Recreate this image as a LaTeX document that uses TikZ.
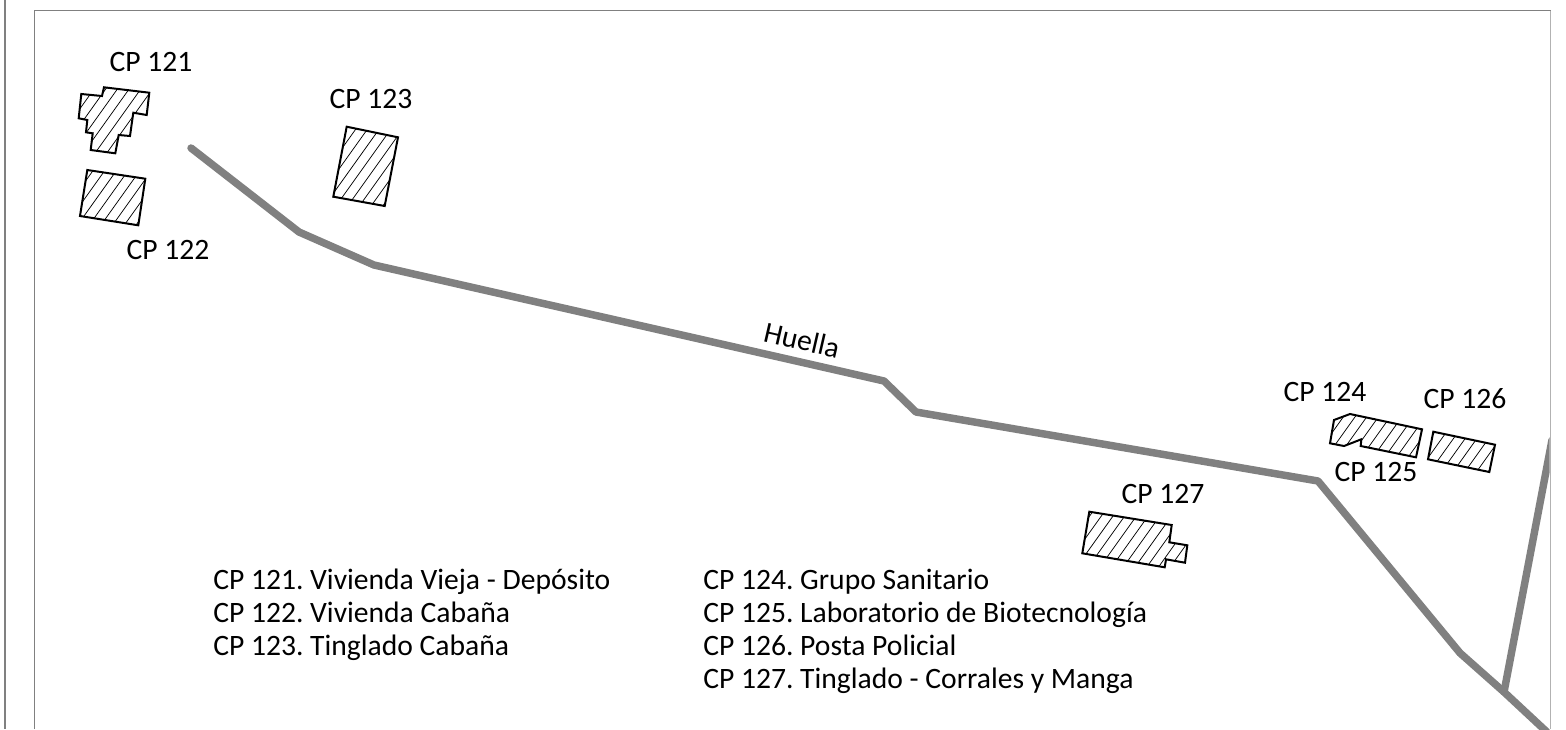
\documentclass[tikz,border=0pt]{standalone}
\usepackage{fontspec}
\setmainfont{Carlito}
\newcommand{\hatched}[2][0]{%
  \begin{scope}
    \clip #2 -- cycle;
    \foreach \k in {0,...,160}{
      \draw[hatchline] ({#1+\k*11.7},0) -- ++(-1400,{1400*1.4});
    }
  \end{scope}
  \draw[bldg] #2 -- cycle;
}
\tikzset{
  x=0.75pt,y=-0.75pt,
  hatchline/.style={black,line width=0.55pt},
  bldg/.style={black,line width=1.5pt,line join=miter},
  road/.style={draw=black!50,line width=5.6pt,line join=round,line cap=round},
  frameline/.style={draw=black!50,line width=0.9pt},
  label/.style={font=\fontsize{22.2}{24.6}\selectfont\frenchspacing,text=black,inner sep=0pt},
  legend/.style={label,align=left,anchor=north west},
}
\begin{document}
\begin{tikzpicture}
\useasboundingbox (0,0) rectangle (1566,729);
\coordinate (fa) at (5,0); \coordinate (fb) at (5,729);
\draw[draw=black!50,line width=1.6pt] (fa) -- (fb);
\coordinate (ra) at (34.5,729); \coordinate (rb) at (34.5,10.5);
\coordinate (rc) at (1550.5,10.5); \coordinate (rd) at (1550.5,729);
\draw[frameline] (ra) -- (rb) -- (rc);
\draw[draw=black!30,line width=1pt] (rc) -- (rd);
\begin{scope}
\clip (0,0) rectangle (1549.5,729);
\coordinate (r0) at (191,148);
\coordinate (r1) at (299,232);
\coordinate (r2) at (374,265);
\coordinate (r3) at (884,381);
\coordinate (r4) at (916,412);
\coordinate (r5) at (1318,481);
\coordinate (r6) at (1460,653);
\coordinate (r7) at (1504,692);
\coordinate (r8) at (1548,733);
\coordinate (r9) at (1552,440);
\draw[road] (r0) -- (r1) -- (r2) -- (r3) -- (r4) -- (r5) -- (r6) -- (r7) -- (r8);
\draw[road] (r7) -- (r9);
\end{scope}
\hatched[5.5]{(104,87.3) -- (149.3,92.7) -- (146.7,115) -- (133.3,112.7) -- (130,136) -- (118.7,135) -- (115.3,153.3) -- (90.7,150) -- (92.7,133.3) -- (86,132.3) -- (87.3,120) -- (78.7,118.3) -- (81.3,94) -- (102,96)}
\hatched[4.3]{(87.3,170) -- (145.3,178.7) -- (138.3,225.3) -- (80,216)}
\hatched[3.4]{(346.7,126.7) -- (398,137.3) -- (384.7,206) -- (333.3,196.7)}
\hatched[3.1]{(1334,420) -- (1350,414) -- (1422,429.3) -- (1416,457.3) -- (1360.7,446) -- (1361.3,439.3) -- (1344,446) -- (1330,443.3)}
\hatched[0]{(1433.3,431.7) -- (1495,444.7) -- (1489.3,472) -- (1428,459.3)}
\hatched[7.4]{(1089.3,511.7) -- (1171.7,525) -- (1169.3,542.3) -- (1187.3,545.3) -- (1185,562.7) -- (1166,559.3) -- (1164.7,567.3) -- (1082.3,553.3)}
\node[label] (n121) at (151,62) {CP 121};
\node[label] (n122) at (168,250) {CP 122};
\node[label] (n123) at (371,99) {CP 123};
\node[label] (n124) at (1325,392) {CP 124};
\node[label] (n125) at (1376,472) {CP 125};
\node[label] (n126) at (1465,399) {CP 126};
\node[label] (n127) at (1163,494) {CP 127};
\node[label,rotate=-13] (nh) at (802,340) {Huella};
\node[legend] (la) at (213,569) {CP 121. Vivienda Vieja - Depósito\\CP 122. Vivienda Cabaña\\CP 123. Tinglado Cabaña};
\node[legend] (lb) at (703,569) {CP 124. Grupo Sanitario\\CP 125. Laboratorio de Biotecnología\\CP 126. Posta Policial\\CP 127. Tinglado - Corrales y Manga};
\end{tikzpicture}
\end{document}
